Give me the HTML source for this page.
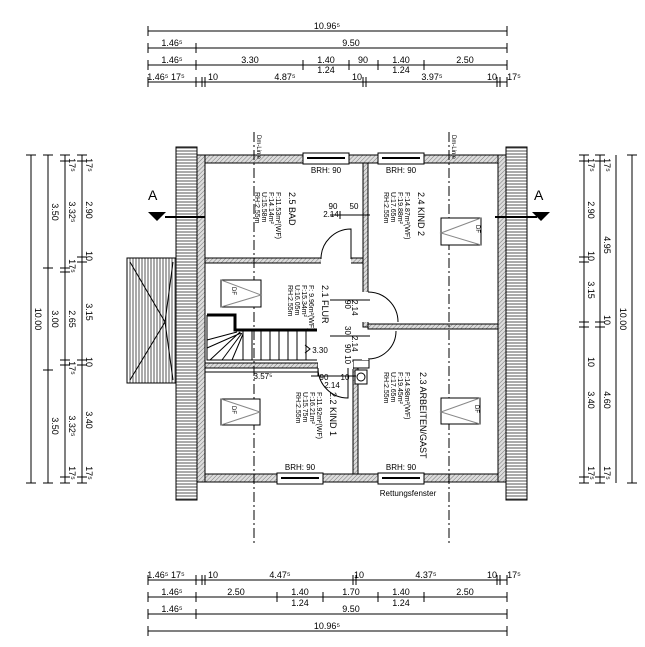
<!DOCTYPE html>
<html><head><meta charset="utf-8"><style>
html,body{margin:0;padding:0;background:#fff}
svg{display:block}
text{font-family:"Liberation Sans",sans-serif;fill:#000}
</style></head><body>
<svg width="645" height="647" viewBox="0 0 645 647" xmlns="http://www.w3.org/2000/svg">
<defs>
<pattern id="hs" width="3" height="3" patternUnits="userSpaceOnUse"><rect width="3" height="3" fill="#fff"/><line x1="0" y1="1" x2="3" y2="1" stroke="#555" stroke-width="1"/></pattern>
<pattern id="vs" width="3" height="3" patternUnits="userSpaceOnUse"><rect width="3" height="3" fill="#fff"/><line x1="1" y1="0" x2="1" y2="3" stroke="#555" stroke-width="1"/></pattern>
<pattern id="wall" width="3" height="3" patternUnits="userSpaceOnUse" patternTransform="rotate(45)"><rect width="3" height="3" fill="#ddd"/><line x1="0" y1="0" x2="0" y2="3" stroke="#777" stroke-width="1"/></pattern>
</defs>
<g stroke="#000" stroke-width="1" fill="none">
<line x1="148" y1="31" x2="507" y2="31"/><line x1="148" y1="48" x2="507" y2="48"/>
<line x1="148" y1="65" x2="507" y2="65"/><line x1="148" y1="82" x2="507" y2="82"/>
<path d="M148 26v10M507 26v10M148 43v10M196 43v10M507 43v10M148 60v10M196 60v10M303 60v10M349 60v10M378 60v10M424 60v10M507 60v10M148 77v10M196 77v10M202 77v10M205 77v10M363 77v10M366 77v10M497 77v10M500 77v10M507 77v10"/>
<line x1="148" y1="580" x2="507" y2="580"/><line x1="148" y1="597" x2="507" y2="597"/>
<line x1="148" y1="614" x2="507" y2="614"/><line x1="148" y1="631" x2="507" y2="631"/>
<path d="M148 575v10M196 575v10M202 575v10M205 575v10M353 575v10M356 575v10M497 575v10M500 575v10M507 575v10M148 592v10M196 592v10M277 592v10M323 592v10M378 592v10M424 592v10M507 592v10M148 609v10M196 609v10M507 609v10M148 626v10M507 626v10"/>
<line x1="31" y1="155" x2="31" y2="483"/><line x1="48" y1="155" x2="48" y2="483"/>
<line x1="65" y1="155" x2="65" y2="483"/><line x1="82" y1="155" x2="82" y2="483"/>
<path d="M26 155h10M26 483h10M43 155h10M43 268h10M43 370h10M43 483h10M60 155h10M60 161h10M60 268h10M60 272h10M60 360h10M60 365h10M60 477h10M60 483h10M77 155h10M77 161h10M77 257h10M77 262h10M77 360h10M77 365h10M77 477h10M77 483h10"/>
<line x1="584" y1="155" x2="584" y2="483"/><line x1="600" y1="155" x2="600" y2="483"/>
<line x1="616" y1="155" x2="616" y2="483"/><line x1="632" y1="155" x2="632" y2="483"/>
<path d="M579 155h10M579 161h10M579 257h10M579 262h10M579 322h10M579 327h10M579 477h10M579 483h10M595 155h10M595 161h10M595 322h10M595 327h10M595 477h10M595 483h10M627 155h10M627 483h10"/>
</g>
<g font-size="9" text-anchor="middle">
<text x="327" y="29">10.96⁵</text>
<text x="172" y="46">1.46⁵</text><text x="351" y="46">9.50</text>
<text x="172" y="63">1.46⁵</text><text x="250" y="63">3.30</text><text x="326" y="63">1.40</text><text x="363" y="63">90</text><text x="401" y="63">1.40</text><text x="465" y="63">2.50</text>
<text x="326" y="73">1.24</text><text x="401" y="73">1.24</text>
<text x="166" y="80">1.46⁵ 17⁵</text><text x="213" y="80">10</text><text x="285" y="80">4.87⁵</text><text x="357" y="80">10</text><text x="432" y="80">3.97⁵</text><text x="492" y="80">10</text><text x="514" y="80">17⁵</text>
<text x="166" y="578">1.46⁵ 17⁵</text><text x="213" y="578">10</text><text x="280" y="578">4.47⁵</text><text x="359" y="578">10</text><text x="426" y="578">4.37⁵</text><text x="492" y="578">10</text><text x="514" y="578">17⁵</text>
<text x="172" y="595">1.46⁵</text><text x="236" y="595">2.50</text><text x="300" y="595">1.40</text><text x="351" y="595">1.70</text><text x="401" y="595">1.40</text><text x="465" y="595">2.50</text>
<text x="300" y="606">1.24</text><text x="401" y="606">1.24</text>
<text x="172" y="612">1.46⁵</text><text x="351" y="612">9.50</text>
<text x="327" y="629">10.96⁵</text>
</g>
<g font-size="9" text-anchor="middle">
<text transform="translate(35,319) rotate(90)">10.00</text>
<text transform="translate(52,212) rotate(90)">3.50</text><text transform="translate(52,319) rotate(90)">3.00</text><text transform="translate(52,426) rotate(90)">3.50</text>
<text transform="translate(69,212) rotate(90)">3.32⁵</text><text transform="translate(69,319) rotate(90)">2.65</text><text transform="translate(69,426) rotate(90)">3.32⁵</text><text transform="translate(69,165) rotate(90)">17⁵</text><text transform="translate(69,266) rotate(90)">17⁵</text><text transform="translate(69,368) rotate(90)">17⁵</text><text transform="translate(69,473) rotate(90)">17⁵</text>
<text transform="translate(86,210) rotate(90)">2.90</text><text transform="translate(86,312) rotate(90)">3.15</text><text transform="translate(86,420) rotate(90)">3.40</text><text transform="translate(86,256) rotate(90)">10</text><text transform="translate(86,362) rotate(90)">10</text><text transform="translate(86,165) rotate(90)">17⁵</text><text transform="translate(86,473) rotate(90)">17⁵</text>
<text transform="translate(588,210) rotate(90)">2.90</text><text transform="translate(588,290) rotate(90)">3.15</text><text transform="translate(588,400) rotate(90)">3.40</text><text transform="translate(588,256) rotate(90)">10</text><text transform="translate(588,362) rotate(90)">10</text><text transform="translate(588,165) rotate(90)">17⁵</text><text transform="translate(588,473) rotate(90)">17⁵</text>
<text transform="translate(604,245) rotate(90)">4.95</text><text transform="translate(604,320) rotate(90)">10</text><text transform="translate(604,400) rotate(90)">4.60</text><text transform="translate(604,165) rotate(90)">17⁵</text><text transform="translate(604,473) rotate(90)">17⁵</text>
<text transform="translate(620,319) rotate(90)">10.00</text>
</g>
<rect x="176" y="147" width="21" height="353" fill="url(#hs)" stroke="#000"/>
<rect x="506" y="147" width="21" height="353" fill="url(#hs)" stroke="#000"/>
<rect x="127" y="258" width="49" height="125" fill="url(#vs)" stroke="#000"/>
<path d="M130 262 L165 322 L130 380 M173 262 L165 322 L173 380" stroke="#000" fill="none"/>
<rect x="197" y="155" width="309" height="8" fill="url(#wall)" stroke="#000"/>
<rect x="197" y="474" width="309" height="8" fill="url(#wall)" stroke="#000"/>
<rect x="197" y="155" width="8" height="327" fill="url(#wall)" stroke="#000"/>
<rect x="498" y="155" width="8" height="327" fill="url(#wall)" stroke="#000"/>
<rect x="205" y="163" width="293" height="311" fill="#fff" stroke="#000"/>
<rect x="205" y="258" width="158" height="5" fill="url(#wall)" stroke="#000"/>
<rect x="363" y="163" width="5" height="164" fill="url(#wall)" stroke="#000"/>
<rect x="368" y="324" width="130" height="5" fill="url(#wall)" stroke="#000"/>
<rect x="205" y="363" width="113" height="5" fill="url(#wall)" stroke="#000"/>
<rect x="353" y="368" width="5" height="106" fill="url(#wall)" stroke="#000"/>
<rect x="353" y="360" width="16" height="8" fill="#fff" stroke="#000"/>
<rect x="321" y="257" width="30" height="7" fill="#fff"/>
<path d="M321 259 A30 30 0 0 1 351 229 V259" fill="none" stroke="#000"/>
<rect x="362" y="292" width="7" height="30" fill="#fff"/>
<path d="M368 292 A30 30 0 0 1 398 322" fill="none" stroke="#000"/>
<rect x="362" y="332" width="7" height="28" fill="#fff"/>
<path d="M368 359 A28 28 0 0 0 396 331" fill="none" stroke="#000"/>
<rect x="318" y="362" width="35" height="7" fill="#fff"/>
<path d="M318 368 A30 30 0 0 0 348 398 V368" fill="none" stroke="#000"/>
<g fill="#fff" stroke="#000">
<rect x="303" y="153" width="46" height="11"/><rect x="378" y="153" width="46" height="11"/>
<rect x="277" y="473" width="46" height="11"/><rect x="378" y="473" width="46" height="11"/>
</g>
<g stroke="#000" stroke-width="2"><path d="M307 158h38M382 158h38M281 478h38M382 478h38"/></g>
<g stroke="#000" stroke-dasharray="10,3,2,3"><line x1="254" y1="132" x2="254" y2="545"/><line x1="449" y1="132" x2="449" y2="545"/></g>
<g stroke="#000" stroke-width="2"><path d="M165 217h40M495 217h42"/></g>
<path d="M148 212h18l-9 9z" fill="#000"/><path d="M532 212h18l-9 9z" fill="#000"/>
<g font-size="14"><text x="148" y="200">A</text><text x="534" y="200">A</text></g>
<g stroke="#000" fill="#fff"><rect x="221" y="280" width="40" height="27"/><rect x="221" y="399" width="39" height="26"/><rect x="441" y="218" width="40" height="27"/><rect x="441" y="398" width="39" height="26"/></g>
<g stroke="#888" fill="none"><path d="M221 280L261 295L221 307M221 399L260 412L221 425M481 218L441 233L481 245M480 398L441 412L480 424"/></g>
<g stroke="#000" fill="none">
<path d="M207 315h28v15h82" stroke-width="3"/>
<path d="M207 315v45h110"/>
<path d="M243 330v30M252 330v30M261 330v30M270 330v30M279 330v30M288 330v30M297 330v30M306 330v30M207 340l30-8M207 348l34-15M210 360l30-28M222 360l20-27M232 360l11-26"/>
<path d="M305 345l5 4l-5 4"/>
</g>
<rect x="355" y="370" width="12" height="14" fill="#fff" stroke="#000"/><circle cx="361" cy="377" r="4" fill="none" stroke="#000"/>
<g stroke="#000"><path d="M205 372h113M318 368v8M311 376h45M330 215h40M340 211v8M330 300h40M330 336h40"/></g>
<g font-size="8" text-anchor="middle">
<text x="263" y="379">3.57⁵</text><text x="324" y="380">90</text><text x="345" y="380">10</text><text x="332" y="388">2.14</text>
<text x="333" y="209">90</text><text x="331" y="217">2.14</text><text x="354" y="209">50</text>
<text x="320" y="353">3.30</text>
<text x="326" y="173">BRH: 90</text><text x="401" y="173">BRH: 90</text>
<text x="300" y="470">BRH: 90</text><text x="401" y="470">BRH: 90</text>
<text x="408" y="496">Rettungsfenster</text>
</g>
<g font-size="8">
<text transform="translate(345,300) rotate(90)">90</text><text transform="translate(352,300) rotate(90)">2.14</text>
<text transform="translate(345,326) rotate(90)">30</text>
<text transform="translate(345,344) rotate(90)">90 10</text><text transform="translate(352,336) rotate(90)">2.14</text>
</g>
<g font-size="9">
<text transform="translate(289,192) rotate(90)">2.5 BAD</text>
<text transform="translate(276,192) rotate(90)" font-size="7">F:11.53m²(WF)</text><text transform="translate(269,192) rotate(90)" font-size="7">F:14.14m²</text><text transform="translate(262,192) rotate(90)" font-size="7">U:15.58m</text><text transform="translate(255,192) rotate(90)" font-size="7">RH:2.55m</text>
<text transform="translate(322,285) rotate(90)">2.1 FLUR</text>
<text transform="translate(309,285) rotate(90)" font-size="7">F: 9.96m²(WF)</text><text transform="translate(302,285) rotate(90)" font-size="7">F:15.34m²</text><text transform="translate(295,285) rotate(90)" font-size="7">U:16.05m</text><text transform="translate(288,285) rotate(90)" font-size="7">RH:2.55m</text>
<text transform="translate(330,392) rotate(90)">2.2 KIND 1</text>
<text transform="translate(317,392) rotate(90)" font-size="7">F:11.92m²(WF)</text><text transform="translate(310,392) rotate(90)" font-size="7">F:16.21m²</text><text transform="translate(303,392) rotate(90)" font-size="7">U:15.75m</text><text transform="translate(296,392) rotate(90)" font-size="7">RH:2.55m</text>
<text transform="translate(418,192) rotate(90)">2.4 KIND 2</text>
<text transform="translate(405,192) rotate(90)" font-size="7">F:14.87m²(WF)</text><text transform="translate(398,192) rotate(90)" font-size="7">F:19.88m²</text><text transform="translate(391,192) rotate(90)" font-size="7">U:17.65m</text><text transform="translate(384,192) rotate(90)" font-size="7">RH:2.55m</text>
<text transform="translate(420,372) rotate(90)">2.3 ARBEITEN/GAST</text>
<text transform="translate(405,372) rotate(90)" font-size="7">F:14.98m²(WF)</text><text transform="translate(398,372) rotate(90)" font-size="7">F:19.45m²</text><text transform="translate(391,372) rotate(90)" font-size="7">U:17.65m</text><text transform="translate(384,372) rotate(90)" font-size="7">RH:2.55m</text>
<text transform="translate(232,287) rotate(90)" font-size="6">DF</text><text transform="translate(232,406) rotate(90)" font-size="6">DF</text><text transform="translate(476,225) rotate(90)" font-size="6">DF</text><text transform="translate(475,405) rotate(90)" font-size="6">DF</text>
<text transform="translate(257,135) rotate(90)" font-size="6">Dm-Linie</text><text transform="translate(452,135) rotate(90)" font-size="6">Dm-Linie</text>
</g>
</svg>
</body></html>
